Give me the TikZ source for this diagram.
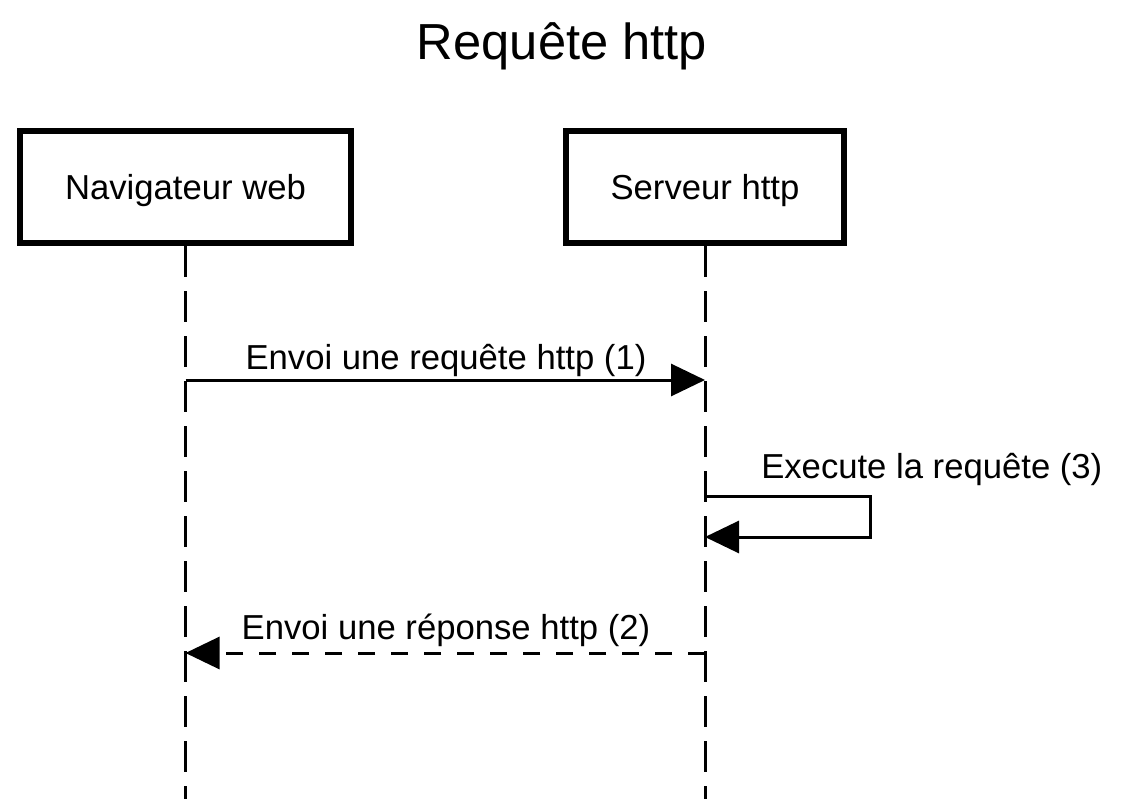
\documentclass[tikz,border=0pt]{standalone}
\usepackage{fontspec}
\setmainfont{Liberation Sans}
\usepackage{tikz}
\usetikzlibrary{arrows.meta}
\usetikzlibrary{positioning}
\tikzset{actor/.style = {draw, line width = 4.5pt, minimum height = 84pt,
                         text depth = 0pt, font = \fontsize{26}{31}\selectfont}}
\tikzset{life/.style = {line width = 2.25pt, dash pattern = on 23.25pt off 10.5pt}}
\tikzset{msg/.style = {line width = 2.25pt, -{Triangle[length = 25.5pt, width = 24pt]}}}
\tikzset{reply/.style = {msg, dash pattern = on 12.75pt off 12pt}}
\tikzset{lbl/.style = {anchor = base, inner sep = 0, font = \fontsize{26}{31}\selectfont}}

\begin{document}
\begin{tikzpicture}[x = 0.75pt, y = -0.75pt]
          \useasboundingbox (0, 0) rectangle (1122, 799);
          \node [lbl, font = \fontsize{38}{46}\selectfont] (title) at (562, 60) {Requête http};

          \node [actor, minimum width = 248.25pt] (nav) at (185.5, 187) {Navigateur web};
          \node [actor, minimum width = 208.5pt] (srv) at (705, 187) {Serveur http};

          \coordinate (navend) at (nav.south |- 0, 799);
          \coordinate (srvend) at (srv.south |- 0, 799);
          \draw [life] (nav.south) -- (navend);
          \draw [life] (srv.south) -- (srvend);

          % requete
          \coordinate (nav1) at (nav.south |- 0, 380);
          \coordinate (srv1) at (srv.south |- 0, 380);
          \draw [msg] (nav1) -- (srv1);
          \node [lbl] (m1) at (446, 369) {Envoi une requête http (1)};

          % execution
          \coordinate (srv2) at (srv.south |- 0, 496);
          \coordinate (srv3) at (srv.south |- 0, 537);
          \draw [msg] (srv2) -- +(165, 0) |- (srv3);
          \node [lbl, anchor = base west] (m3) at (761, 478) {Execute la requête (3)};

          % reponse
          \coordinate (nav4) at (nav.south |- 0, 653);
          \coordinate (srv4) at (srv.south |- 0, 653);
          \draw [reply] (srv4) -- (nav4);
          \node [lbl] (m2) at (446, 639) {Envoi une réponse http (2)};
        \end{tikzpicture}
\end{document}
